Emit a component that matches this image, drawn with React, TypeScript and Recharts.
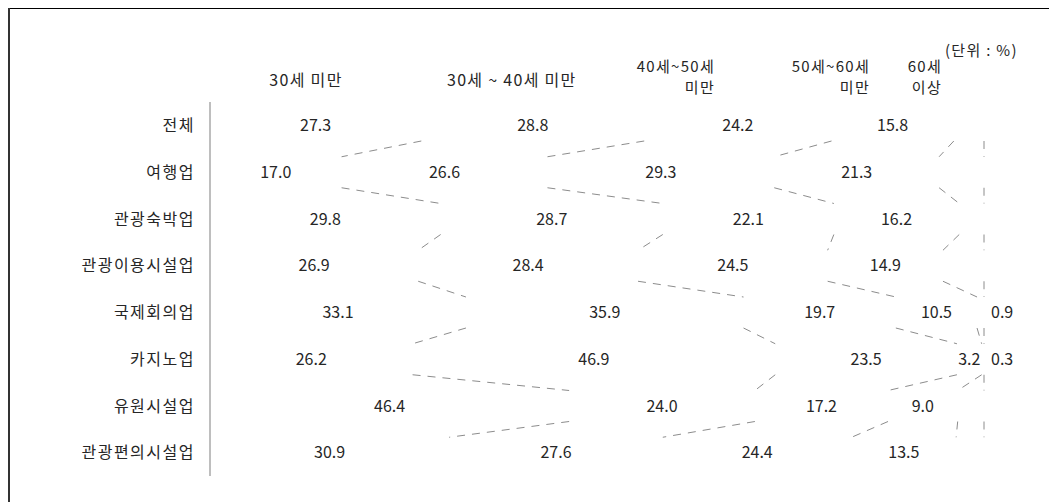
import { Bar, BarChart, LabelList, XAxis, YAxis } from 'recharts'

const categories = ['전체', '여행업', '관광숙박업', '관광이용시설업', '국제회의업', '카지노업', '유원시설업', '관광편의시설업']
const under30 = [27.3, 17.0, 29.8, 26.9, 33.1, 26.2, 46.4, 30.9]
const age30s = [28.8, 26.6, 28.7, 28.4, 35.9, 46.9, 24.0, 27.6]
const age40s = [24.2, 29.3, 22.1, 24.5, 19.7, 23.5, 17.2, 24.4]
const age50s = [15.8, 21.3, 16.2, 14.9, 10.5, 3.2, 9.0, 13.5]
const over60 = [3.9, 5.8, 3.2, 5.3, 0.9, 0.3, 3.4, 3.6]
// only these rows show the 60세 이상 value, beside the bar end
const over60Shown = ['국제회의업', '카지노업']

const seriesKeys = ['under30', 'age30s', 'age40s', 'age50s', 'over60']

const data = categories.map((name, i) => ({
  name,
  under30: under30[i],
  age30s: age30s[i],
  age40s: age40s[i],
  age50s: age50s[i],
  over60: over60[i],
}))

const headers = [
  { lines: ['30세 미만'], x: 306, y: 80, anchor: 'middle', size: 16 },
  { lines: ['30세 ~ 40세 미만'], x: 447, y: 80, anchor: 'start', size: 16 },
  { lines: ['40세~50세', '미만'], x: 715, y: 67, anchor: 'end', size: 15 },
  { lines: ['50세~60세', '미만'], x: 870, y: 67, anchor: 'end', size: 15 },
  { lines: ['60세', '이상'], x: 942, y: 67, anchor: 'end', size: 15 },
  { lines: ['(단위 : %)'], x: 945, y: 51, anchor: 'start', size: 15 },
]

const font = '"Noto Sans CJK KR", "Noto Sans", sans-serif'
const textColor = '#262626'

// bar edges of the previous row, per series, so each row can draw the dashed link upward
const edges: Record<string, Record<number, { right: number; bottom: number }>> = {}

function makeShape(key: string) {
  return function ConnectorShape(props: any) {
    const { x, y, width, height, payload } = props
    const index = categories.indexOf(payload?.name)
    const right = x + width
    const col = (edges[key] ||= {})
    col[index] = { right, bottom: y + height }
    const prev = col[index - 1]
    if (index <= 0 || !prev) return <g />
    return (
      <line
        x1={prev.right}
        y1={prev.bottom}
        x2={right}
        y2={y}
        stroke="#8c8c8c"
        strokeWidth={1}
        strokeDasharray="8 7"
      />
    )
  }
}

function renderLabel(key: string) {
  return function SegmentLabel(props: any) {
    const { x, y, width, height, value, index } = props
    const cy = y + height / 2
    if (key === 'over60') {
      if (!over60Shown.includes(categories[index])) return null
      return (
        <text x={x + width + 7} y={cy} dy="0.35em" textAnchor="start" fontSize={16} fill={textColor} fontFamily={font}>
          {Number(value).toFixed(1)}
        </text>
      )
    }
    return (
      <text x={x + width / 2} y={cy} dy="0.35em" textAnchor="middle" fontSize={16} fill={textColor} fontFamily={font}>
        {Number(value).toFixed(1)}
      </text>
    )
  }
}

export default function App() {
  return (
    <div style={{ position: 'relative', width: 1049, height: 494, fontFamily: font }}>
      <div style={{ position: 'absolute', left: 0, top: 0 }}>
        <BarChart
          width={1040}
          height={490}
          data={data}
          layout="vertical"
          stackOffset="expand"
          barSize={31}
          margin={{ top: 94, right: 64, bottom: 22, left: 0 }}
        >
          <XAxis type="number" hide domain={[0, 1]} />
          <YAxis
            type="category"
            dataKey="name"
            width={202}
            tickSize={0}
            tickMargin={15}
            tickLine={false}
            axisLine={{ stroke: '#a8a8a8', strokeWidth: 1.5 }}
            tick={{ fontSize: 16, fill: textColor, fontFamily: font, letterSpacing: 1.5 }}
          />
          {seriesKeys.map((key) => (
            <Bar key={key} dataKey={key} stackId="age" fill="none" shape={makeShape(key)} isAnimationActive={false}>
              <LabelList dataKey={key} content={renderLabel(key)} />
            </Bar>
          ))}
        </BarChart>
      </div>
      <svg width={1049} height={494} style={{ position: 'absolute', left: 0, top: 0, pointerEvents: 'none' }}>
        <line x1={0} y1={0.5} x2={1049} y2={0.5} stroke="#000" strokeWidth={1} shapeRendering="crispEdges" />
        <line x1={1} y1={0} x2={1} y2={494} stroke="#333" strokeWidth={2} shapeRendering="crispEdges" />
        {headers.map((h) =>
          h.lines.map((line, j) => (
            <text
              key={h.lines.join() + j}
              x={h.x - 8}
              y={h.y - 8 + j * 21}
              dy="0.35em"
              textAnchor={h.anchor as any}
              fontSize={h.size}
              letterSpacing={1.3}
              fill={textColor}
              fontFamily={font}
            >
              {line}
            </text>
          )),
        )}
      </svg>
    </div>
  )
}
